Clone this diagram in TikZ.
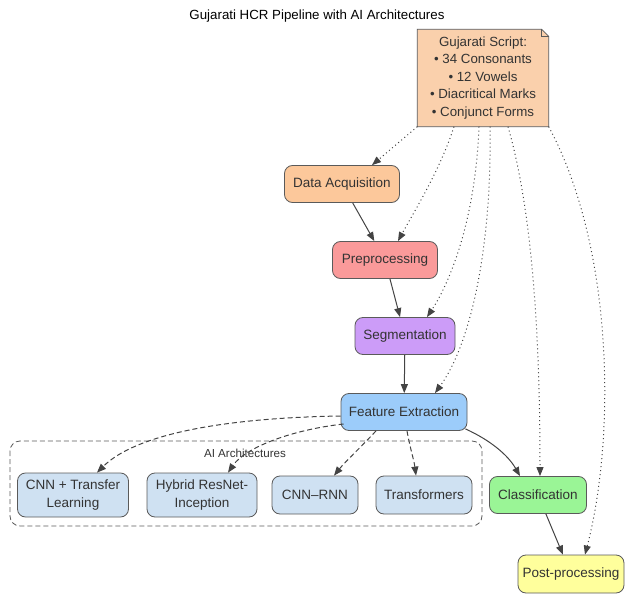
\documentclass[tikz,border=0pt]{standalone}
\usepackage{fontspec}
\setmainfont{Liberation Sans}
\usetikzlibrary{arrows.meta, backgrounds}
\definecolor{notefill}{HTML}{FAD0AC}
\definecolor{acqfill}{HTML}{FCC89B}
\definecolor{prefill}{HTML}{FA9A9A}
\definecolor{segfill}{HTML}{CC9CF8}
\definecolor{featfill}{HTML}{9CCCFA}
\definecolor{archfill}{HTML}{CFE1F2}
\definecolor{clsfill}{HTML}{9AF596}
\definecolor{postfill}{HTML}{FFFF9C}
\definecolor{linegray}{HTML}{444444}
\definecolor{boxgray}{HTML}{5A5A5A}
\definecolor{textgray}{HTML}{333333}

\begin{document}
\begin{tikzpicture}[x=1pt, y=-1pt,
    stage/.style={draw=boxgray, line width=0.8pt, rounded corners=8pt, minimum height=37pt,
        inner sep=0pt, text=textgray, font=\fontsize{13.5}{18}\selectfont},
    archbox/.style={stage, fill=archfill, align=center},
    flow/.style={draw=linegray, line width=1pt, -{Triangle[length=9pt, width=7pt]}},
    dependson/.style={flow, dash pattern=on 1pt off 3pt},
    usesarch/.style={flow, dash pattern=on 5pt off 3pt}]
    \useasboundingbox (0,0) rectangle (630,594);
    \node[text=black, font=\fontsize{13.3}{15}\selectfont] (title) at (317,16) {Gujarati HCR Pipeline with AI Architectures};
    \draw [boxgray, line width=0.8pt, dash pattern=on 5pt off 3pt, rounded corners=10pt] (10,441) rectangle (482,526);
    \node[text=textgray, font=\fontsize{11.6}{13}\selectfont] (ailabel) at (245,453) {AI Architectures};
    \node[inner sep=0pt, minimum width=131pt, minimum height=97pt, align=center, text=textgray,
        font=\fontsize{13.3}{17.5}\selectfont] (note) at (483,78)
        {Gujarati Script:\\\textbullet{} 34 Consonants\\\textbullet{} 12 Vowels\\\textbullet{} Diacritical Marks\\\textbullet{} Conjunct Forms};
    \begin{scope}[on background layer]
        \draw [boxgray, fill=notefill, line width=0.8pt] (note.north west) -- ([xshift=-7pt]note.north east)
            -- ([yshift=-7pt]note.north east) -- (note.south east) -- (note.south west) -- cycle;
        \draw [boxgray, line width=0.8pt] ([xshift=-7pt]note.north east) |- ([yshift=-7pt]note.north east);
    \end{scope}
    \node[stage, fill=acqfill, minimum width=115pt] (acq) at (342,184) {Data Acquisition};
    \node[stage, fill=prefill, minimum width=105pt] (pre) at (385,260) {Preprocessing};
    \node[stage, fill=segfill, minimum width=100pt] (seg) at (405,336) {Segmentation};
    \node[stage, fill=featfill, minimum width=126pt] (feat) at (404,412) {Feature Extraction};
    \node[archbox, minimum width=111pt, minimum height=44pt] (cnntl) at (73,495) {CNN + Transfer\\Learning};
    \node[archbox, minimum width=110pt, minimum height=44pt] (hybrid) at (202,495) {Hybrid ResNet-\\Inception};
    \node[archbox, minimum width=86pt, minimum height=38pt] (cnnrnn) at (315,495) {CNN--RNN};
    \node[archbox, minimum width=96pt, minimum height=38pt] (trans) at (424,495) {Transformers};
    \node[stage, fill=clsfill, minimum width=97pt] (cls) at (538,495) {Classification};
    \node[stage, fill=postfill, minimum width=106pt, minimum height=38pt] (post) at (571,574) {Post-processing};
    \draw [flow] (acq) -- (pre);
    \draw [flow] (pre) -- (seg);
    \draw [flow] (seg) -- (feat);
    \draw [flow] ([xshift=-2pt, yshift=2pt]feat.south east) .. controls (490,440) and (508,455) .. ([xshift=-18pt]cls.north);
    \draw [flow] (cls) -- (post);
    \draw [dependson] (note.south west) -- ([xshift=30pt]acq.north);
    \draw [dependson] ([xshift=-29pt]note.south) .. controls (440,170) and (415,210) .. ([xshift=13pt]pre.north);
    \draw [dependson] ([xshift=-4pt]note.south) .. controls (475,230) and (445,290) .. ([xshift=22pt]seg.north);
    \draw [dependson] ([xshift=7pt]note.south) .. controls (492,250) and (470,345) .. ([xshift=31pt]feat.north);
    \draw [dependson] ([xshift=25pt]note.south) .. controls (535,220) and (540,360) .. ([xshift=2pt]cls.north);
    \draw [dependson] (note.south east) .. controls (615,250) and (615,440) .. ([xshift=14pt]post.north);
    \draw [usesarch] ([yshift=-4pt]feat.west) .. controls (220,418) and (135,435) .. ([xshift=24pt]cnntl.north);
    \draw [usesarch] ([xshift=3pt, yshift=-12pt]feat.west) .. controls (290,430) and (245,448) .. ([xshift=26pt]hybrid.north);
    \draw [usesarch] ([xshift=-28pt]feat.south) .. controls (362,446) and (345,462) .. ([xshift=19pt]cnnrnn.north);
    \draw [usesarch] ([xshift=3pt]feat.south) .. controls (410,448) and (414,460) .. ([xshift=-8pt]trans.north);
\end{tikzpicture}
\end{document}
